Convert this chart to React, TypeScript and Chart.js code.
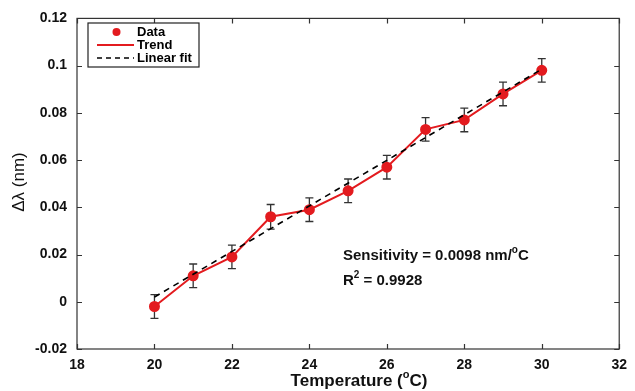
import React, { useEffect, useRef } from "react";
import { Chart, registerables } from "chart.js";

Chart.register(...registerables);

const temperatures = [20, 21, 22, 23, 24, 25, 26, 27, 28, 29, 30];
const deltaLambda = [-0.002, 0.011, 0.019, 0.036, 0.039, 0.047, 0.057, 0.073, 0.077, 0.088, 0.098];
const errorBars = [0.005, 0.005, 0.005, 0.0052, 0.005, 0.005, 0.005, 0.005, 0.005, 0.005, 0.005];
const fitTemps = [20, 30];
const fitValues = [0.002, 0.0985];
const xTicks = [18, 20, 22, 24, 26, 28, 30, 32];
const yTicks = [-0.02, 0, 0.02, 0.04, 0.06, 0.08, 0.1, 0.12];

const RED = "#e31b1f";
const AXIS = "#333333";
const FONT = "'Liberation Sans', Arial, Helvetica, sans-serif";

type Seg = { t: string; sup?: boolean };

function drawSegs(ctx: CanvasRenderingContext2D, segs: Seg[], x: number, y: number, size: number, weight: string, align: "left" | "center") {
  const supSize = Math.round(size * 0.65);
  let total = 0;
  const widths = segs.map((s) => {
    ctx.font = `${weight} ${s.sup ? supSize : size}px ${FONT}`;
    const w = ctx.measureText(s.t).width;
    total += w;
    return w;
  });
  let cx = align === "center" ? x - total / 2 : x;
  ctx.textAlign = "left";
  ctx.textBaseline = "middle";
  segs.forEach((s, i) => {
    ctx.font = `${weight} ${s.sup ? supSize : size}px ${FONT}`;
    ctx.fillText(s.t, cx, s.sup ? y - size * 0.38 : y);
    cx += widths[i];
  });
}

const decorPlugin = {
  id: "decor",
  beforeDatasetsDraw(chart: any) {
    const { ctx, scales } = chart;
    const xs = scales.x;
    const ys = scales.y;
    ctx.save();
    ctx.strokeStyle = AXIS;
    ctx.lineWidth = 1.3;
    temperatures.forEach((t, i) => {
      const px = xs.getPixelForValue(t);
      const top = ys.getPixelForValue(deltaLambda[i] + errorBars[i]);
      const bot = ys.getPixelForValue(deltaLambda[i] - errorBars[i]);
      ctx.beginPath();
      ctx.moveTo(px, top);
      ctx.lineTo(px, bot);
      ctx.moveTo(px - 4, top);
      ctx.lineTo(px + 4, top);
      ctx.moveTo(px - 4, bot);
      ctx.lineTo(px + 4, bot);
      ctx.stroke();
    });
    ctx.restore();
  },
  afterDraw(chart: any) {
    const { ctx, scales, chartArea } = chart;
    const xs = scales.x;
    const ys = scales.y;
    const { left, right, top, bottom } = chartArea;
    ctx.save();
    // frame
    ctx.strokeStyle = AXIS;
    ctx.lineWidth = 1.2;
    ctx.strokeRect(left, top, right - left, bottom - top);
    ctx.beginPath();
    xTicks.forEach((v) => {
      const px = Math.round(xs.getPixelForValue(v)) + 0.5;
      ctx.moveTo(px, bottom);
      ctx.lineTo(px, bottom - 5);
      ctx.moveTo(px, top);
      ctx.lineTo(px, top + 5);
    });
    yTicks.forEach((v) => {
      const py = Math.round(ys.getPixelForValue(v)) + 0.5;
      ctx.moveTo(left, py);
      ctx.lineTo(left + 5, py);
      ctx.moveTo(right, py);
      ctx.lineTo(right - 5, py);
    });
    ctx.stroke();

    // legend
    const lx = 88, ly = 23, lw = 111, lh = 44;
    ctx.fillStyle = "#ffffff";
    ctx.fillRect(lx, ly, lw, lh);
    ctx.strokeStyle = "#222";
    ctx.lineWidth = 1.2;
    ctx.strokeRect(lx, ly, lw, lh);
    const rows = [32, 45, 58];
    ctx.fillStyle = RED;
    ctx.beginPath();
    ctx.arc(116.5, rows[0], 4, 0, Math.PI * 2);
    ctx.fill();
    ctx.strokeStyle = RED;
    ctx.lineWidth = 2;
    ctx.beginPath();
    ctx.moveTo(97, rows[1]);
    ctx.lineTo(134, rows[1]);
    ctx.stroke();
    ctx.strokeStyle = "#000";
    ctx.lineWidth = 1.5;
    ctx.setLineDash([5, 4]);
    ctx.beginPath();
    ctx.moveTo(97, rows[2]);
    ctx.lineTo(134, rows[2]);
    ctx.stroke();
    ctx.setLineDash([]);
    ctx.fillStyle = "#000";
    drawSegs(ctx, [{ t: "Data" }], 137, rows[0], 13, "bold", "left");
    drawSegs(ctx, [{ t: "Trend" }], 137, rows[1], 13, "bold", "left");
    drawSegs(ctx, [{ t: "Linear fit" }], 137, rows[2], 13, "bold", "left");

    // annotations
    ctx.fillStyle = "#111";
    drawSegs(ctx, [{ t: "Sensitivity = 0.0098 nm/" }, { t: "o", sup: true }, { t: "C" }], 343, 256, 15, "bold", "left");
    drawSegs(ctx, [{ t: "R" }, { t: "2", sup: true }, { t: " = 0.9928" }], 343, 281, 15, "bold", "left");

    // axis titles
    drawSegs(ctx, [{ t: "Temperature (" }, { t: "o", sup: true }, { t: "C)" }], 359, 381, 17, "bold", "center");
    ctx.save();
    ctx.translate(19, 182);
    ctx.rotate(-Math.PI / 2);
    drawSegs(ctx, [{ t: "\u0394\u03bb (nm)" }], 0, 0, 17, "normal", "center");
    ctx.restore();
    ctx.restore();
  },
};

export default function App() {
  const ref = useRef<HTMLCanvasElement | null>(null);
  useEffect(() => {
    if (!ref.current) return;
    const chart = new Chart(ref.current, {
      type: "scatter",
      data: {
        datasets: [
          {
            label: "Linear fit",
            data: fitTemps.map((x, i) => ({ x, y: fitValues[i] })),
            showLine: true,
            borderColor: "#000",
            borderWidth: 1.6,
            borderDash: [6, 5],
            pointRadius: 0,
            order: 0,
          },
          {
            label: "Data",
            data: temperatures.map((x, i) => ({ x, y: deltaLambda[i] })),
            showLine: true,
            borderColor: RED,
            borderWidth: 2,
            backgroundColor: RED,
            pointBackgroundColor: RED,
            pointBorderColor: RED,
            pointRadius: 4.5,
            order: 1,
          },
        ],
      },
      plugins: [decorPlugin],
      options: {
        animation: false,
        responsive: true,
        maintainAspectRatio: false,
        layout: { padding: { left: 0, top: 15, right: 10, bottom: 0 } },
        plugins: { legend: { display: false }, tooltip: { enabled: false } },
        scales: {
          x: {
            type: "linear",
            min: 18,
            max: 32,
            ticks: {
              stepSize: 2,
              padding: 8,
              color: "#111",
              font: { family: FONT, size: 14, weight: "bold" },
            },
            grid: { display: false, drawTicks: false },
            border: { display: false },
            afterFit: (s: any) => {
              s.height = 42;
            },
          },
          y: {
            type: "linear",
            min: -0.02,
            max: 0.12,
            ticks: {
              stepSize: 0.02,
              padding: 10,
              color: "#111",
              font: { family: FONT, size: 14, weight: "bold" },
              callback: (v: any) => String(+(+v).toFixed(2)),
            },
            grid: { display: false, drawTicks: false },
            border: { display: false },
            afterFit: (s: any) => {
              s.width = 77;
            },
          },
        },
      },
    } as any);
    return () => chart.destroy();
  }, []);
  return (
    <div style={{ position: "absolute", left: 0, top: 0, width: 635, height: 391, background: "#fff" }}>
      <canvas ref={ref} />
    </div>
  );
}
